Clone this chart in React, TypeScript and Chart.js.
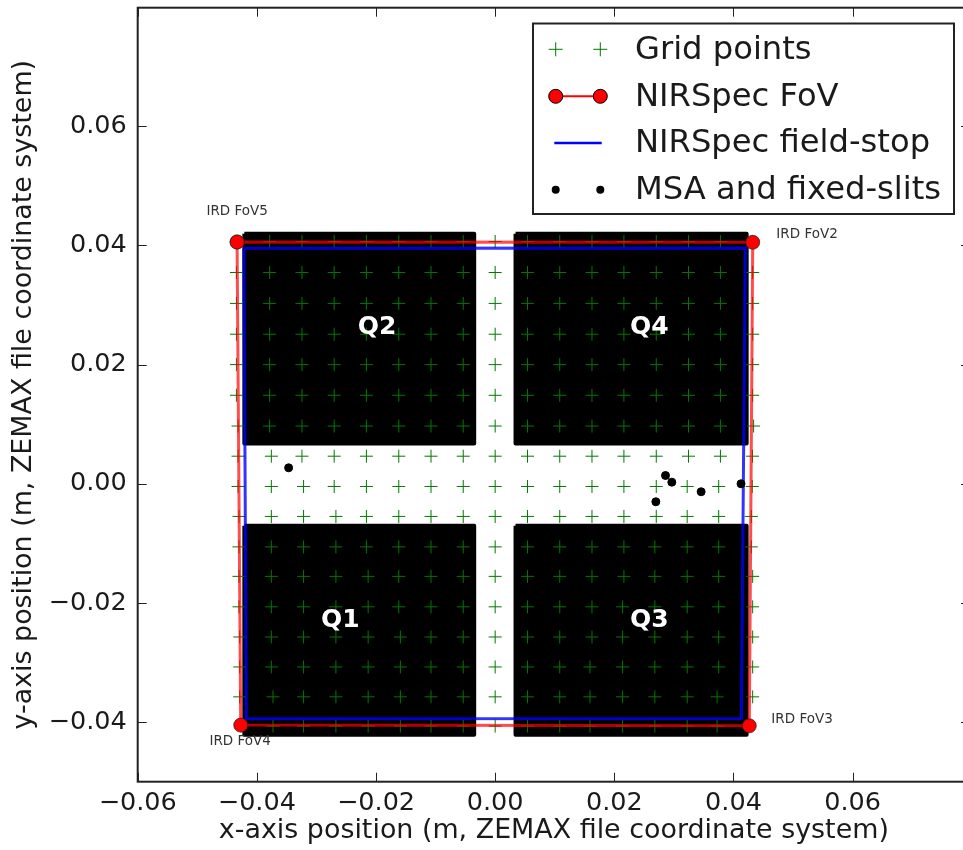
import React, { useEffect, useRef } from "react";
import Chart from "chart.js/auto";

const xTicks = [-0.06, -0.04, -0.02, 0, 0.02, 0.04, 0.06];
const yTicks = [-0.04, -0.02, 0, 0.02, 0.04, 0.06];

const gridRowY = [
  0.04066, 0.03546, 0.03027, 0.0251, 0.02, 0.01485, 0.00969, 0.00463, -0.00045,
  -0.00548, -0.01059, -0.01554, -0.02065, -0.02571, -0.03074, -0.03576, -0.04067,
];
const gridRowsX = [
  [-0.04343, -0.03786, -0.03243, -0.02702, -0.02161, -0.01618, -0.01077, -0.00536, 0, 0.00543, 0.01084, 0.01625, 0.02161, 0.02704, 0.03245, 0.03781, 0.04322],
  [-0.04343, -0.03786, -0.03243, -0.02702, -0.02161, -0.01618, -0.01077, -0.00536, 0, 0.00543, 0.01084, 0.01625, 0.02161, 0.02704, 0.03245, 0.03781, 0.04322],
  [-0.04343, -0.03786, -0.03243, -0.02702, -0.02161, -0.01618, -0.01077, -0.00536, 0, 0.00543, 0.01084, 0.01625, 0.02161, 0.02704, 0.03245, 0.03781, 0.04322],
  [-0.04343, -0.03786, -0.03243, -0.02702, -0.02161, -0.01618, -0.01077, -0.00536, 0, 0.00543, 0.01084, 0.01625, 0.02161, 0.02704, 0.03245, 0.03781, 0.04322],
  [-0.04343, -0.03786, -0.03243, -0.02702, -0.02161, -0.01618, -0.01077, -0.00536, 0, 0.00543, 0.01084, 0.01625, 0.02161, 0.02704, 0.03245, 0.03781, 0.04322],
  [-0.04343, -0.03786, -0.03243, -0.02702, -0.02161, -0.01618, -0.01077, -0.00536, 0, 0.00543, 0.01084, 0.01625, 0.02161, 0.02704, 0.03245, 0.03781, 0.04322],
  [-0.04315, -0.03786, -0.03243, -0.02702, -0.02161, -0.01618, -0.01077, -0.00536, 0, 0.00543, 0.01084, 0.01625, 0.02161, 0.02704, 0.03245, 0.03781, 0.04338],
  [-0.04315, -0.03757, -0.03243, -0.02702, -0.02161, -0.01618, -0.01077, -0.00536, 0, 0.00543, 0.01084, 0.01625, 0.02161, 0.02704, 0.03245, 0.03781, 0.0432],
  [-0.04315, -0.03757, -0.03216, -0.02702, -0.02161, -0.01618, -0.01077, -0.00536, 0, 0.00543, 0.01084, 0.01625, 0.02161, 0.02704, 0.03223, 0.03752, 0.04315],
  [-0.043, -0.03757, -0.03216, -0.02673, -0.02161, -0.01618, -0.01077, -0.00536, 0, 0.00543, 0.01084, 0.01625, 0.02161, 0.02704, 0.03223, 0.03752, 0.043],
  [-0.043, -0.03757, -0.03216, -0.02673, -0.02161, -0.01618, -0.01077, -0.00536, 0, 0.00543, 0.01084, 0.01625, 0.02161, 0.0268, 0.03223, 0.03752, 0.043],
  [-0.043, -0.03757, -0.03216, -0.02673, -0.02132, -0.01618, -0.01077, -0.00536, 0, 0.00543, 0.01084, 0.01625, 0.02161, 0.0268, 0.03223, 0.03752, 0.04322],
  [-0.043, -0.03757, -0.03216, -0.02673, -0.02132, -0.01618, -0.01077, -0.00536, 0, 0.00543, 0.01084, 0.01625, 0.02139, 0.0268, 0.03223, 0.03752, 0.04322],
  [-0.04288, -0.03757, -0.03216, -0.02673, -0.02132, -0.01591, -0.01077, -0.00536, 0, 0.00543, 0.01084, 0.01625, 0.02139, 0.0268, 0.03223, 0.03752, 0.04322],
  [-0.04288, -0.03757, -0.03216, -0.02673, -0.02132, -0.01591, -0.01077, -0.00536, 0, 0.00543, 0.01084, 0.01591, 0.02139, 0.0268, 0.03223, 0.03752, 0.04322],
  [-0.04288, -0.03729, -0.03216, -0.02673, -0.02132, -0.01591, -0.01077, -0.00536, 0, 0.00543, 0.01084, 0.01591, 0.02139, 0.0268, 0.03223, 0.03725, 0.04322],
  [-0.0427, -0.03729, -0.03216, -0.02673, -0.02132, -0.01591, -0.01077, -0.00536, 0, 0.00543, 0.01084, 0.01591, 0.02139, 0.0268, 0.03223, 0.03725, 0.04255],
];

const fovX = [-0.04332, 0.04323, 0.04266, -0.04271, -0.04332];
const fovY = [0.04058, 0.04053, -0.04062, -0.0405, 0.04058];

const stopX = [-0.04218, 0.04199, 0.04132, -0.04176, -0.04218];
const stopY = [0.03952, 0.03955, -0.03938, -0.03945, 0.03952];

const slitX = [0.02859, 0.02965, 0.03457, 0.02697, 0.04127, -0.03467];
const slitY = [0.00139, 0.00027, -0.00134, -0.00302, 0, 0.00268];

const q1X = [-0.0421, -0.00352, -0.00352, -0.0421, -0.0421];
const q1Y = [-0.00704, -0.00704, -0.04213, -0.04213, -0.00704];
const q2X = [-0.0421, -0.00352, -0.00352, -0.0421, -0.0421];
const q2Y = [0.04195, 0.04195, 0.00675, 0.00675, 0.04195];
const q3X = [0.00342, 0.04221, 0.04221, 0.00342, 0.00342];
const q3Y = [-0.00704, -0.00704, -0.04213, -0.04213, -0.00704];
const q4X = [0.00342, 0.04221, 0.04221, 0.00342, 0.00342];
const q4Y = [0.04195, 0.04195, 0.00675, 0.00675, 0.04195];

const quadrantLabels = ["Q1", "Q2", "Q3", "Q4"];
const quadrantLabelX = [-0.02601, -0.01982, 0.02586, 0.02586];
const quadrantLabelY = [-0.02296, 0.02624, -0.02291, 0.02624];

const fovLabels = ["IRD FoV2", "IRD FoV3", "IRD FoV4", "IRD FoV5"];
const fovLabelX = [0.0472, 0.04636, -0.04796, -0.04846];
const fovLabelY = [0.04186, -0.03955, -0.04329, 0.04563];

const legendLabels = ["Grid points", "NIRSpec FoV", "NIRSpec field-stop", "MSA and fixed-slits"];
const xTitle = "x-axis position (m, ZEMAX file coordinate system)";
const yTitle = "y-axis position (m, ZEMAX file coordinate system)";

const FONT = '"DejaVu Sans"';
const INK = "#1a1a1a";
const zip = (xs: number[], ys: number[]) => xs.map((x, i) => ({ x, y: ys[i] }));
const fmt = (v: number) => (v < 0 ? "\u2212" : "") + Math.abs(v).toFixed(2);

const quadrant = (label: string, xs: number[], ys: number[]) => ({
  label,
  data: zip(xs, ys),
  showLine: true,
  fill: "shape",
  backgroundColor: "#000",
  borderColor: "#000",
  borderWidth: 4,
  borderJoinStyle: "round",
  pointRadius: 0,
  order: 5,
});

const overlay = {
  id: "overlay",
  afterDatasetsDraw(chart: any) {
    const { ctx, chartArea: a, scales } = chart;
    const sx = scales.x;
    const sy = scales.y;
    ctx.save();
    // inward ticks on all four sides
    ctx.strokeStyle = "#222";
    ctx.lineWidth = 1;
    ctx.beginPath();
    const tl = 9;
    xTicks.forEach((t) => {
      const p = Math.round(sx.getPixelForValue(t)) + 0.5;
      ctx.moveTo(p, a.bottom);
      ctx.lineTo(p, a.bottom - tl);
      ctx.moveTo(p, a.top);
      ctx.lineTo(p, a.top + tl);
    });
    yTicks.forEach((t) => {
      const p = Math.round(sy.getPixelForValue(t)) + 0.5;
      ctx.moveTo(a.left, p);
      ctx.lineTo(a.left + tl, p);
      ctx.moveTo(a.right, p);
      ctx.lineTo(a.right - tl, p);
    });
    ctx.stroke();
    // frame
    ctx.strokeStyle = "#222";
    ctx.lineWidth = 2;
    ctx.strokeRect(a.left, a.top, a.right - a.left, a.bottom - a.top);

    // annotations
    ctx.textBaseline = "middle";
    ctx.fillStyle = "#fff";
    ctx.textAlign = "center";
    ctx.font = `bold 25px ${FONT}`;
    quadrantLabels.forEach((q, i) => {
      ctx.fillText(q, sx.getPixelForValue(quadrantLabelX[i]), sy.getPixelForValue(quadrantLabelY[i]));
    });
    ctx.fillStyle = "#333";
    ctx.textAlign = "left";
    ctx.font = `13.5px ${FONT}`;
    fovLabels.forEach((q, i) => {
      ctx.fillText(q, sx.getPixelForValue(fovLabelX[i]), sy.getPixelForValue(fovLabelY[i]));
    });

    // legend
    ctx.fillStyle = "#fff";
    ctx.strokeStyle = "#222";
    ctx.lineWidth = 2;
    ctx.fillRect(533, 23.5, 421, 190.5);
    ctx.strokeRect(533, 23.5, 421, 190.5);
    const ys = [49.3, 96.3, 143, 189.7];
    const xa = 555.7;
    const xb = 600.3;
    ctx.strokeStyle = "#007800";
    ctx.lineWidth = 1;
    ctx.beginPath();
    [xa, xb].forEach((x) => {
      ctx.moveTo(x - 7, ys[0]);
      ctx.lineTo(x + 7, ys[0]);
      ctx.moveTo(x, ys[0] - 7);
      ctx.lineTo(x, ys[0] + 7);
    });
    ctx.stroke();
    ctx.strokeStyle = "#f00";
    ctx.lineWidth = 2;
    ctx.beginPath();
    ctx.moveTo(xa, ys[1]);
    ctx.lineTo(xb, ys[1]);
    ctx.stroke();
    ctx.fillStyle = "#f00";
    ctx.strokeStyle = "#000";
    ctx.lineWidth = 1;
    [xa, xb].forEach((x) => {
      ctx.beginPath();
      ctx.arc(x, ys[1], 7, 0, Math.PI * 2);
      ctx.fill();
      ctx.stroke();
    });
    ctx.strokeStyle = "#0000ff";
    ctx.lineWidth = 2.5;
    ctx.beginPath();
    ctx.moveTo(554.3, ys[2]);
    ctx.lineTo(601.7, ys[2]);
    ctx.stroke();
    ctx.fillStyle = "#000";
    [xa, xb].forEach((x) => {
      ctx.beginPath();
      ctx.arc(x, ys[3], 4, 0, Math.PI * 2);
      ctx.fill();
    });
    ctx.fillStyle = INK;
    ctx.font = `32.2px ${FONT}`;
    ctx.textAlign = "left";
    ctx.textBaseline = "middle";
    legendLabels.forEach((l, i) => ctx.fillText(l, 635, ys[i] + 1));
    ctx.restore();
  },
};

export default function App() {
  const ref = useRef<HTMLCanvasElement>(null);
  useEffect(() => {
    const chart = new Chart(ref.current as HTMLCanvasElement, {
      type: "scatter",
      plugins: [overlay],
      data: {
        datasets: [
          quadrant("Q1", q1X, q1Y),
          quadrant("Q2", q2X, q2Y),
          quadrant("Q3", q3X, q3Y),
          quadrant("Q4", q4X, q4Y),
          {
            label: legendLabels[0],
            data: gridRowsX.flatMap((row, r) => row.map((x) => ({ x, y: gridRowY[r] }))),
            pointStyle: "cross",
            pointRadius: 6.5,
            pointBorderWidth: 1,
            pointBorderColor: "#007800",
            pointBackgroundColor: "#007800",
            order: 4,
          },
          {
            label: legendLabels[1],
            data: zip(fovX, fovY),
            showLine: true,
            borderColor: "rgba(255,0,0,0.7)",
            borderWidth: 3,
            pointRadius: 7,
            pointBackgroundColor: "#f00",
            pointBorderColor: "#222",
            pointBorderWidth: 0.7,
            order: 2,
          },
          {
            label: legendLabels[2],
            data: zip(stopX, stopY),
            showLine: true,
            borderColor: "rgba(0,0,255,0.8)",
            borderWidth: 3,
            pointRadius: 0,
            order: 3,
          },
          {
            label: legendLabels[3],
            data: zip(slitX, slitY),
            pointRadius: 4,
            pointBackgroundColor: "#000",
            pointBorderColor: "#000",
            order: 1,
          },
        ],
      } as any,
      options: {
        animation: false,
        responsive: false,
        layout: { padding: { top: 6.7, right: 20, left: 0, bottom: 0 } },
        plugins: { legend: { display: false }, tooltip: { enabled: false }, title: { display: false } },
        scales: {
          x: {
            type: "linear",
            min: -0.06,
            max: 0.0797,
            grid: { display: false },
            border: { display: false },
            afterBuildTicks: (s: any) => {
              s.ticks = xTicks.map((value) => ({ value }));
            },
            afterFit: (s: any) => {
              s.height = 68.3;
              s.paddingLeft = 0;
              s.paddingRight = 0;
            },
            ticks: {
              autoSkip: false,
              maxRotation: 0,
              padding: -2,
              color: INK,
              font: { family: FONT, size: 25.5 },
              callback: (v: any) => fmt(Number(v)),
            },
            title: {
              display: true,
              text: xTitle,
              color: INK,
              font: { family: FONT, size: 26.9 },
              padding: { top: 0, bottom: 2.5 },
            },
          },
          y: {
            type: "linear",
            min: -0.05,
            max: 0.0799,
            grid: { display: false },
            border: { display: false },
            afterBuildTicks: (s: any) => {
              s.ticks = yTicks.map((value) => ({ value }));
            },
            afterFit: (s: any) => {
              s.width = 137.7;
              s.paddingTop = 0;
              s.paddingBottom = 0;
            },
            ticks: {
              autoSkip: false,
              padding: 3,
              color: INK,
              font: { family: FONT, size: 25.5 },
              callback: (v: any) => fmt(Number(v)),
            },
            title: {
              display: true,
              text: yTitle,
              color: INK,
              font: { family: FONT, size: 26.9 },
              padding: { top: 8, bottom: 0 },
            },
          },
        },
      } as any,
    });
    return () => chart.destroy();
  }, []);
  return (
    <div style={{ position: "fixed", left: 0, top: 0, width: 963, height: 850, overflow: "hidden", background: "#fff" }}>
      <canvas ref={ref} width={990} height={850} style={{ display: "block" }} />
    </div>
  );
}
